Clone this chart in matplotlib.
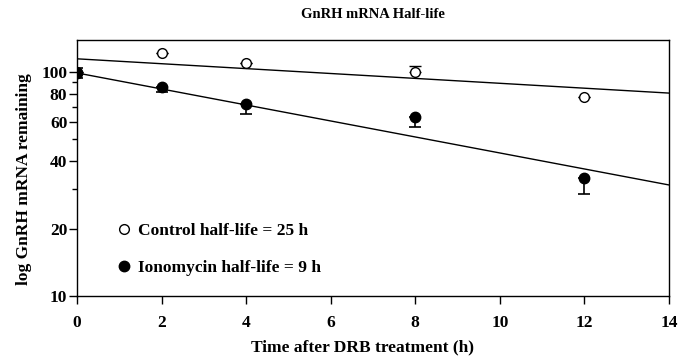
import numpy as np
import matplotlib.pyplot as plt
from matplotlib.lines import Line2D
from matplotlib.ticker import FixedLocator, FixedFormatter, NullFormatter

# ============================================================
# DATOS
# ============================================================

tiempo = [0, 2, 4, 8, 12]

control = [100, 122, 110, 100, 77.5]
control_err_bajo = [0, 0, 0, 0, 0]
control_err_alto = [0, 0, 0, 6, 0]

ionomicina = [99, 86, 72, 63, 33.5]
ionomicina_err_bajo = [5, 5, 7, 6, 5]
ionomicina_err_alto = [5, 0, 0, 0, 0]

# rectas de ajuste (extremos en t=0 y t=14)
ajuste_t = [0, 14]
ajuste_control = [114.5, 80.5]
ajuste_ionomicina = [99, 31.3]

etiquetas = ["Control half-life = 25 h", "Ionomycin half-life = 9 h"]
yticks = [10, 20, 40, 60, 80, 100]
yticks_menores = [30, 50, 70, 90]
xticks = [0, 2, 4, 6, 8, 10, 12, 14]

# ============================================================
# ESTILO
# ============================================================

plt.rcParams["font.family"] = ["Liberation Serif", "DejaVu Serif"]
plt.rcParams["font.weight"] = "bold"
plt.rcParams["font.size"] = 12

fig = plt.figure(figsize=(6.78, 3.6), dpi=100)
ax = fig.add_axes([0.1136, 0.178, 0.873, 0.711])

# ============================================================
# GRAFICA
# ============================================================

ax.plot(ajuste_t, ajuste_control, color="black", lw=1.0)
ax.plot(ajuste_t, ajuste_ionomicina, color="black", lw=1.0)

ax.errorbar(tiempo, control,
            yerr=[control_err_bajo, control_err_alto],
            fmt="o", color="black", mfc="white", ms=7, mew=1.0,
            capsize=4, elinewidth=1.2, capthick=1.2, zorder=3)

ax.errorbar(tiempo, ionomicina,
            yerr=[ionomicina_err_bajo, ionomicina_err_alto],
            fmt="o", color="black", mfc="black", ms=7.5,
            capsize=4, elinewidth=1.2, capthick=1.2, zorder=4)

ax.set_yscale("log")
ax.set_ylim(10, 139)
ax.set_xlim(0, 14)

ax.yaxis.set_major_locator(FixedLocator(yticks))
ax.yaxis.set_major_formatter(FixedFormatter([str(v) for v in yticks]))
ax.yaxis.set_minor_locator(FixedLocator(yticks_menores))
ax.yaxis.set_minor_formatter(NullFormatter())
ax.set_xticks(xticks)

ax.tick_params(axis="both", direction="out", length=6, width=1, labelsize=12.5)
ax.tick_params(axis="y", which="minor", length=3.5, width=1)
ax.tick_params(axis="x", pad=8)
ax.tick_params(axis="y", pad=1)
for s in ax.spines.values():
    s.set_linewidth(1.0)

ax.set_title("GnRH mRNA Half-life", fontsize=10.5, fontweight="bold", pad=16)
ax.set_xlabel("Time after DRB treatment (h)", fontsize=12.5, fontweight="bold")
ax.set_ylabel("log GnRH mRNA remaining", fontsize=12.5, fontweight="bold")
ax.xaxis.set_label_coords(0.482, -0.17)
ax.yaxis.set_label_coords(-0.076, 0.457)

handles = [
    Line2D([], [], ls="none", marker="o", mfc="white", mec="black", ms=7),
    Line2D([], [], ls="none", marker="o", mfc="black", mec="black", ms=7.5),
]
ax.legend(handles, etiquetas, loc="lower left", bbox_to_anchor=(0.053, 0.05),
          frameon=False, fontsize=12.5, handletextpad=0.3, labelspacing=1.2,
          handlelength=1.0, borderaxespad=0)

fig.savefig("out.png", dpi=100)
